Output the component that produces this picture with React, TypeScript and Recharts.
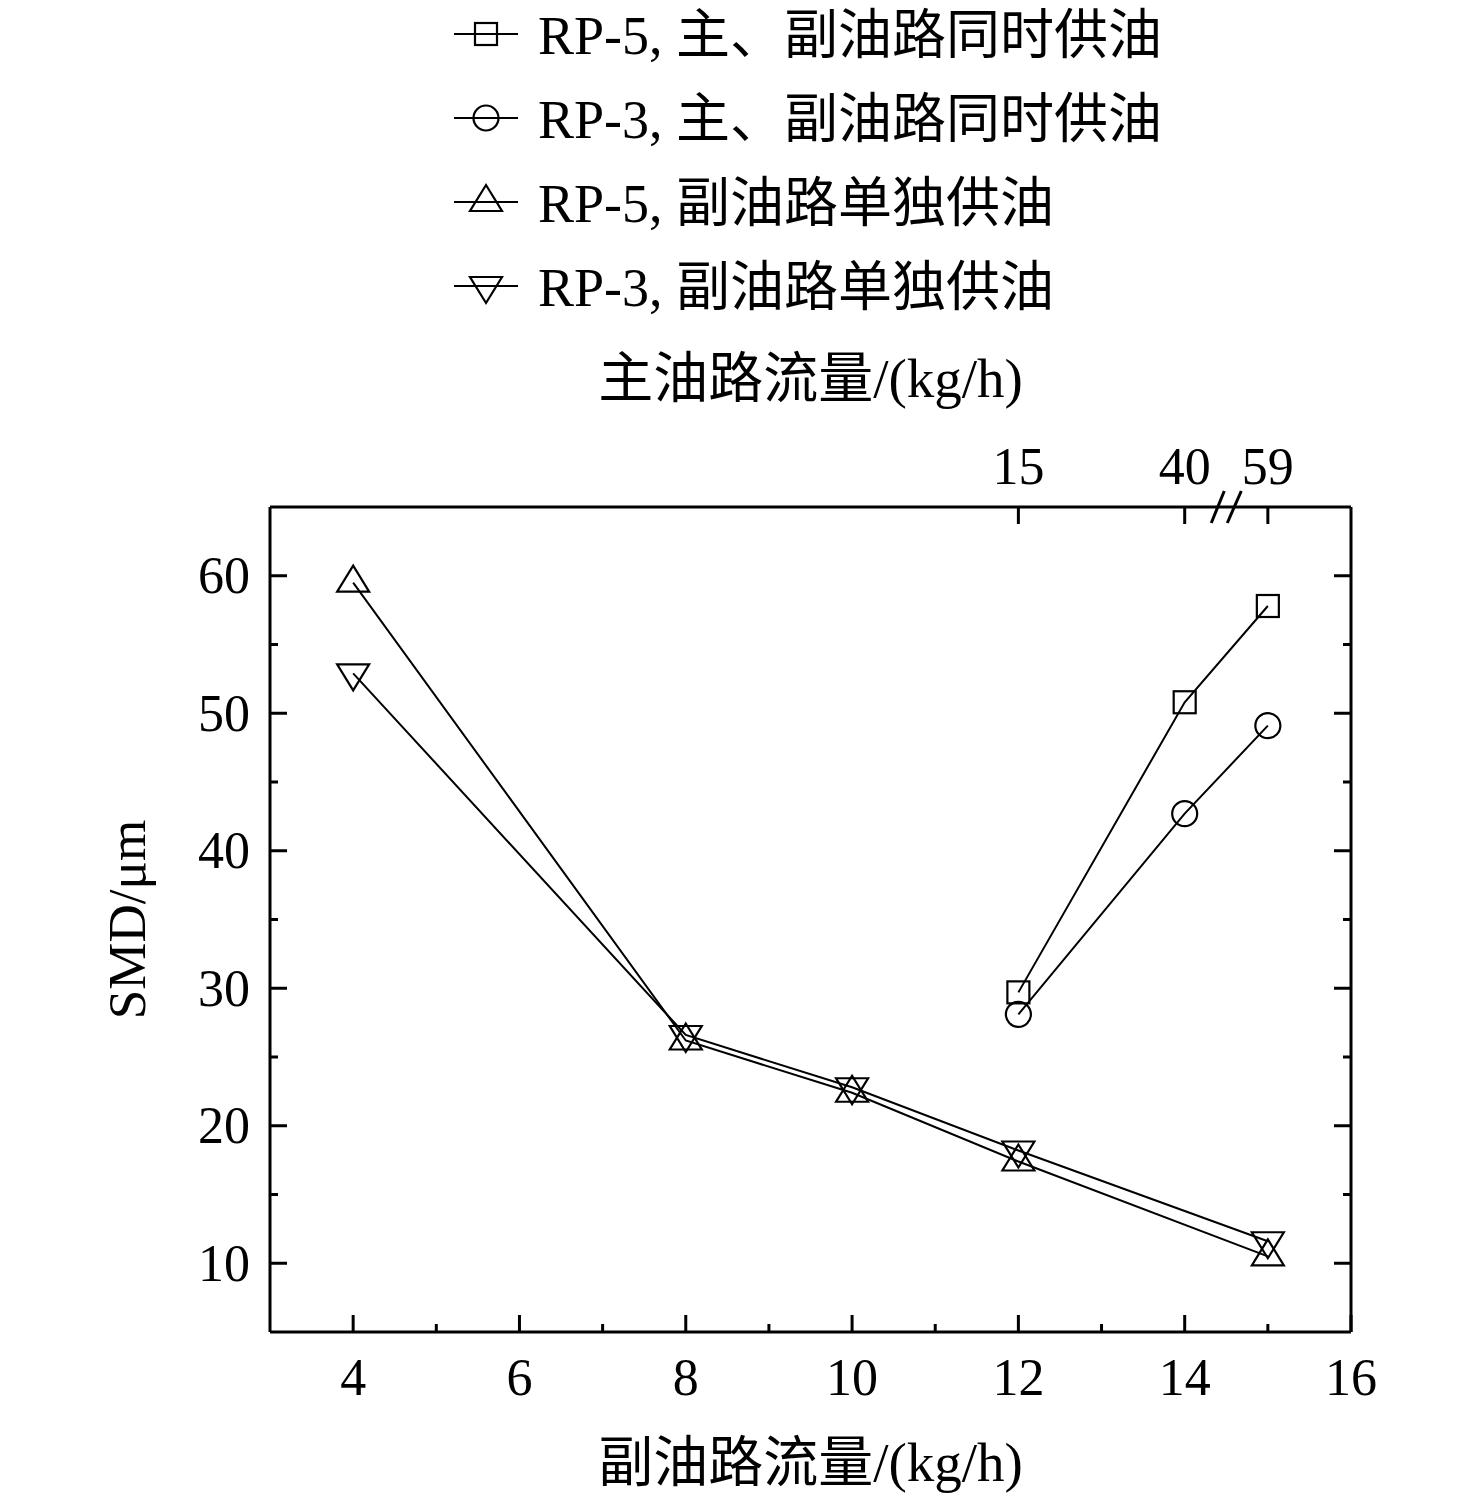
import React from "react";
import { LineChart, Line, XAxis, YAxis } from "recharts";

const FONT = "'Liberation Serif', 'Times New Roman', 'Noto Sans CJK SC', serif";

// 主、副油路同时供油 (x = 副油路流量)
const bothX = [12, 14, 15];
const rp5BothY = [29.7, 50.8, 57.8];
const rp3BothY = [28.1, 42.7, 49.1];

// 副油路单独供油
const subX = [4, 8, 10, 12, 15];
const rp5SubY = [59.5, 26.2, 22.4, 17.4, 10.5];
const rp3SubY = [52.9, 26.6, 22.8, 18.2, 11.6];

const bottomTicks = [4, 5, 6, 7, 8, 9, 10, 11, 12, 13, 14, 15, 16];
const leftTicks = [10, 15, 20, 25, 30, 35, 40, 45, 50, 55, 60];

// top axis: 主油路流量 at the matching 副油路 positions
const topTickX = [12, 14, 15];
const topTickLabels = ["15", "40", "59"];
const topBreakX = 14.5;

const seriesNames = [
  "RP-5, 主、副油路同时供油",
  "RP-3, 主、副油路同时供油",
  "RP-5, 副油路单独供油",
  "RP-3, 副油路单独供油",
];
const seriesKinds = ["square", "circle", "up", "down"];

const toRows = (xs: number[], ys: number[]) => xs.map((x, i) => ({ x, y: ys[i] }));

const series = [
  { data: toRows(bothX, rp5BothY) },
  { data: toRows(bothX, rp3BothY) },
  { data: toRows(subX, rp5SubY) },
  { data: toRows(subX, rp3SubY) },
];

function Marker({ kind, cx, cy }: { kind: string; cx: number; cy: number }) {
  const st = { fill: "none", stroke: "#000", strokeWidth: 2.2 };
  if (kind === "square")
    return <rect x={cx - 11} y={cy - 11} width={22} height={22} {...st} />;
  if (kind === "circle") return <circle cx={cx} cy={cy} r={12.5} {...st} />;
  if (kind === "up")
    return (
      <polygon
        points={`${cx},${cy - 17} ${cx - 16},${cy + 9} ${cx + 16},${cy + 9}`}
        {...st}
      />
    );
  return (
    <polygon
      points={`${cx},${cy + 17} ${cx - 16},${cy - 9} ${cx + 16},${cy - 9}`}
      {...st}
    />
  );
}

function BottomTick({ x, y, payload }: any) {
  const v = payload.value;
  const major = v % 2 === 0;
  return (
    <g>
      <line x1={x} x2={x} y1={y} y2={y - (major ? 17 : 8)} stroke="#000" strokeWidth={3} />
      {major && (
        <text x={x} y={y + 45} textAnchor="middle" dominantBaseline="central" fontSize={52} fontFamily={FONT} fill="#000">
          {v}
        </text>
      )}
    </g>
  );
}

function LeftTick({ x, y, payload }: any) {
  const v = payload.value;
  const major = v % 10 === 0;
  return (
    <g>
      <line x1={x} x2={x + (major ? 17 : 8)} y1={y} y2={y} stroke="#000" strokeWidth={3} />
      {major && (
        <text x={x - 20} y={y} textAnchor="end" dominantBaseline="central" fontSize={52} fontFamily={FONT} fill="#000">
          {v}
        </text>
      )}
    </g>
  );
}

function RightTick({ x, y, payload }: any) {
  const major = payload.value % 10 === 0;
  return <line x1={x} x2={x - (major ? 17 : 8)} y1={y} y2={y} stroke="#000" strokeWidth={3} />;
}

function TopTick({ x, y, payload }: any) {
  const v = payload.value;
  if (v === topBreakX) {
    return (
      <g stroke="#000" strokeWidth={3}>
        <line x1={x - 15} y1={y + 16} x2={x - 2} y2={y - 16} />
        <line x1={x + 1} y1={y + 16} x2={x + 15} y2={y - 16} />
      </g>
    );
  }
  const label = topTickLabels[topTickX.indexOf(v)];
  return (
    <g>
      <line x1={x} x2={x} y1={y} y2={y + 17} stroke="#000" strokeWidth={3} />
      <text x={x} y={y - 41} textAnchor="middle" dominantBaseline="central" fontSize={52} fontFamily={FONT} fill="#000">
        {label}
      </text>
    </g>
  );
}

const axisLine = { stroke: "#000", strokeWidth: 3 };

function Legend() {
  return (
    <div style={{ position: "absolute", left: 0, top: 0 }}>
      {seriesNames.map((name, i) => {
        const cy = 30 + i * 84;
        return (
          <div
            key={name}
            style={{
              position: "absolute",
              left: 450,
              top: cy - 35,
              height: 70,
              display: "flex",
              alignItems: "center",
              whiteSpace: "nowrap",
              fontFamily: FONT,
              fontSize: 54,
              color: "#000",
            }}
          >
            <svg width={76} height={70} style={{ marginRight: 12, marginTop: 8 }}>
              <line x1={4} x2={68} y1={35} y2={35} stroke="#000" strokeWidth={2} />
              <Marker kind={seriesKinds[i]} cx={36} cy={35} />
            </svg>
            <span>{name}</span>
          </div>
        );
      })}
    </div>
  );
}

export default function App() {
  return (
    <div style={{ position: "absolute", left: 0, top: 0, width: 1476, height: 1496, background: "#fff" }}>
      <LineChart
        width={1476}
        height={1496}
        margin={{ top: 447, right: 105, bottom: 84, left: 190 }}
      >
        <XAxis
          xAxisId="bottom"
          dataKey="x"
          type="number"
          domain={[3, 16]}
          allowDataOverflow
          ticks={bottomTicks}
          interval={0}
          height={80}
          tickSize={0}
          tickMargin={0}
          tickLine={false}
          axisLine={axisLine}
          tick={BottomTick}
          label={{
            content: ({ viewBox }: any) => (
              <text
                x={viewBox.x + viewBox.width / 2}
                y={viewBox.y + 130}
                textAnchor="middle"
                dominantBaseline="central"
                fontSize={55}
                fontFamily={FONT}
                fill="#000"
              >
                副油路流量/(kg/h)
              </text>
            ),
          }}
        />
        <XAxis
          xAxisId="top"
          orientation="top"
          dataKey="x"
          type="number"
          domain={[3, 16]}
          allowDataOverflow
          ticks={[...topTickX.slice(0, 2), topBreakX, topTickX[2]]}
          interval={0}
          height={60}
          tickSize={0}
          tickMargin={0}
          tickLine={false}
          axisLine={axisLine}
          tick={TopTick}
          label={{
            content: ({ viewBox }: any) => (
              <text
                x={viewBox.x + viewBox.width / 2}
                y={viewBox.y - 69}
                textAnchor="middle"
                dominantBaseline="central"
                fontSize={55}
                fontFamily={FONT}
                fill="#000"
              >
                主油路流量/(kg/h)
              </text>
            ),
          }}
        />
        <YAxis
          yAxisId="left"
          type="number"
          domain={[5, 65]}
          allowDataOverflow
          ticks={leftTicks}
          interval={0}
          width={80}
          tickSize={0}
          tickMargin={0}
          tickLine={false}
          axisLine={axisLine}
          tick={LeftTick}
          label={{
            content: ({ viewBox }: any) => {
              const cx = viewBox.x - 63;
              const cy = viewBox.y + viewBox.height / 2;
              return (
                <text
                  x={cx}
                  y={cy}
                  transform={`rotate(-90 ${cx} ${cy})`}
                  textAnchor="middle"
                  dominantBaseline="central"
                  fontSize={53}
                  fontFamily={FONT}
                  fill="#000"
                >
                  SMD/μm
                </text>
              );
            },
          }}
        />
        <YAxis
          yAxisId="right"
          orientation="right"
          type="number"
          domain={[5, 65]}
          allowDataOverflow
          ticks={leftTicks}
          interval={0}
          width={20}
          tickSize={0}
          tickMargin={0}
          tickLine={false}
          axisLine={axisLine}
          tick={RightTick}
        />
        {series.map((s, i) => (
          <Line
            key={seriesNames[i]}
            xAxisId="bottom"
            yAxisId="left"
            data={s.data}
            dataKey="y"
            name={seriesNames[i]}
            stroke="#000"
            strokeWidth={2}
            isAnimationActive={false}
            dot={(p: any) => <Marker key={p.index} kind={seriesKinds[i]} cx={p.cx} cy={p.cy} />}
            activeDot={false}
          />
        ))}
      </LineChart>
      <Legend />
    </div>
  );
}
